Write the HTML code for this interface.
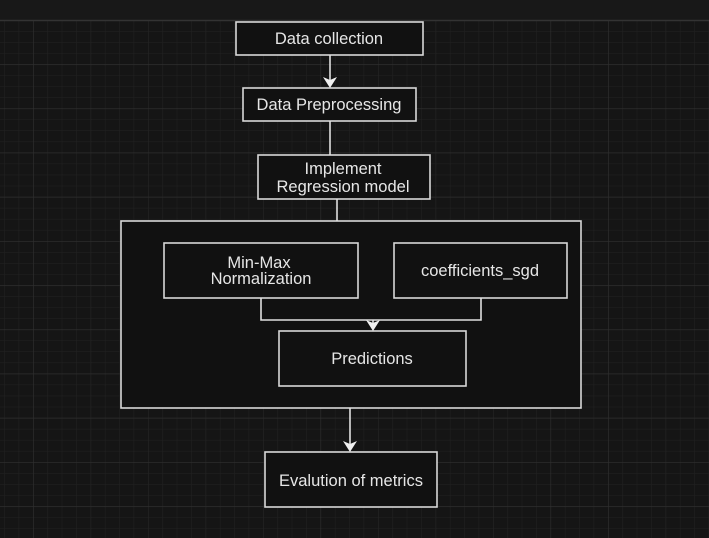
<!DOCTYPE html>
<html><head><style>
html,body{margin:0;padding:0;background:#151515;}
svg{display:block}
text{font-family:"Liberation Sans",Arial,sans-serif;font-size:16.5px;fill:#e6e6e6;text-anchor:middle}
</style></head><body>
<svg width="709" height="538" viewBox="0 0 709 538" xmlns="http://www.w3.org/2000/svg">
<defs>
<pattern id="minor" x="33" y="20" width="14.375" height="11.05" patternUnits="userSpaceOnUse">
<path d="M0 0V11.05M0 0H14.375" stroke="#222" stroke-width="1" fill="none"/>
</pattern>
<pattern id="major" x="33" y="20" width="57.5" height="44.2" patternUnits="userSpaceOnUse">
<path d="M0 0V44.2M0 0H57.5" stroke="#303030" stroke-width="1.2" fill="none"/>
</pattern>
</defs>
<rect width="709" height="538" fill="#151515"/>
<rect y="20" width="709" height="518" fill="url(#minor)"/>
<rect y="20" width="709" height="518" fill="url(#major)"/>
<rect width="709" height="20" fill="#181818"/>
<line x1="0" y1="20.5" x2="709" y2="20.5" stroke="#333" stroke-width="1.5"/>
<g fill="#111" stroke="#d8d8d8" stroke-width="1.6">
<rect x="236" y="22" width="187" height="33"/>
<rect x="243" y="88" width="173" height="33"/>
<rect x="258" y="155" width="172" height="44"/>
<rect x="121" y="221" width="460" height="187"/>
<rect x="164" y="243" width="194" height="55"/>
<rect x="394" y="243" width="173" height="55"/>
<rect x="279" y="331" width="187" height="55"/>
<rect x="265" y="452" width="172" height="55"/>
</g>
<g stroke="#e0e0e0" stroke-width="1.6" fill="none">
<path d="M330 55V80"/>
<path d="M330 121V155"/>
<path d="M337 199V221"/>
<path d="M261 298V320H481V298"/>
<path d="M373 320V324"/>
<path d="M350 408V444"/>
</g>
<g fill="#f0f0f0">
<path d="M323 77L330 80L337 77L330 88Z"/>
<path d="M366 320L373 323L380 320L373 331Z"/>
<path d="M343 441L350 444L357 441L350 452Z"/>
</g>
<text x="329" y="44">Data collection</text>
<text x="329" y="110">Data Preprocessing</text>
<text x="343" y="174">Implement</text>
<text x="343" y="192">Regression model</text>
<text x="259" y="268">Min-Max</text>
<text x="261" y="284">Normalization</text>
<text x="480" y="276">coefficients_sgd</text>
<text x="372" y="364">Predictions</text>
<text x="351" y="486">Evalution of metrics</text>
</svg>
</body></html>
